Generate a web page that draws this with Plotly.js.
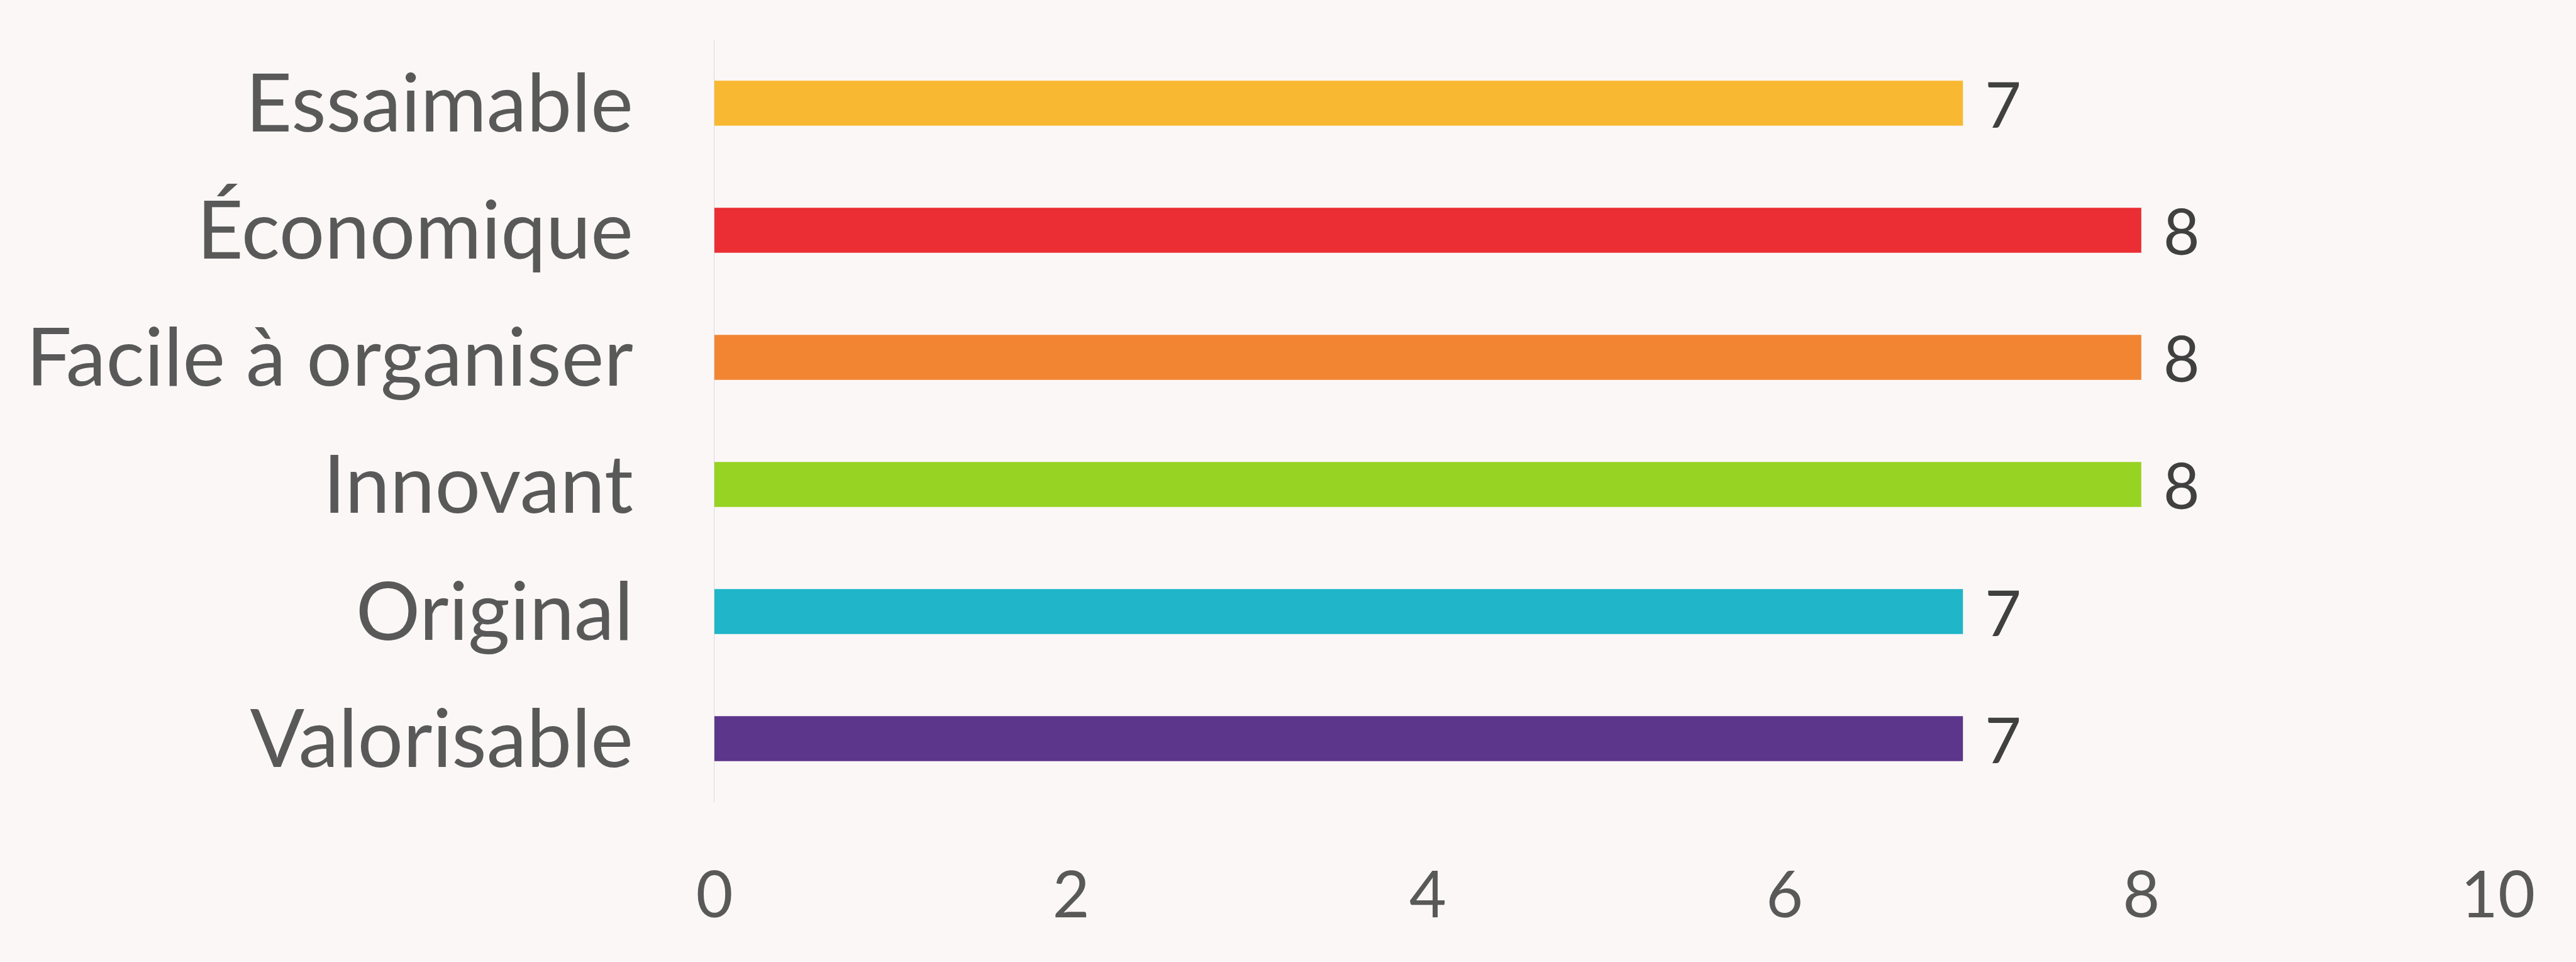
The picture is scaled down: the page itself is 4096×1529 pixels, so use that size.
<!DOCTYPE html>
<html>
<head>
<meta charset="utf-8">
<script src="https://cdn.plot.ly/plotly-3.0.1.min.js"></script>
<style>
  html, body { margin: 0; padding: 0; background: #FBF7F6; }
  #chart { width: 4096px; height: 1529px; }
</style>
</head>
<body>
<div id="chart"></div>
<script>
const categories = ["Essaimable", "Économique", "Facile à organiser", "Innovant", "Original", "Valorisable"];
const values = [7, 8, 8, 8, 7, 7];
const barColors = ["#F8B832", "#EA2E34", "#F28532", "#97D323", "#20B5C8", "#5C368B"];
const xTickValues = [0, 2, 4, 6, 8, 10];

const FONT = "Lato, 'Open Sans', sans-serif";

const trace = {
  type: "bar",
  orientation: "h",
  y: categories,
  x: values,
  marker: { color: barColors, line: { width: 0 } },
  text: values.map(String),
  texttemplate: "\u00A0\u200A%{x}",
  textposition: "outside",
  constraintext: "none",
  cliponaxis: false,
  textfont: { family: FONT, size: 100, color: "#404040" },
  hoverinfo: "none"
};

const layout = {
  width: 4096,
  height: 1529,
  paper_bgcolor: "#FBF7F6",
  plot_bgcolor: "#FBF7F6",
  margin: { l: 1136, r: 124, t: 63, b: 254, pad: 0 },
  bargap: 0.645,
  showlegend: false,
  xaxis: {
    range: [0, 10],
    tickvals: xTickValues,
    ticktext: xTickValues.map(String),
    showgrid: false,
    zeroline: false,
    showline: false,
    ticks: "outside",
    ticklen: 60,
    tickcolor: "rgba(0,0,0,0)",
    tickfont: { family: FONT, size: 102, color: "#595959" },
    fixedrange: true
  },
  yaxis: {
    autorange: "reversed",
    showgrid: false,
    zeroline: false,
    showline: true,
    linecolor: "#D9D9D9",
    linewidth: 1.5,
    ticks: "outside",
    ticklen: 102,
    tickcolor: "rgba(0,0,0,0)",
    tickfont: { family: FONT, size: 128, color: "#595959" },
    fixedrange: true
  }
};

Plotly.newPlot("chart", [trace], layout, { staticPlot: true, displayModeBar: false });
</script>
</body>
</html>
